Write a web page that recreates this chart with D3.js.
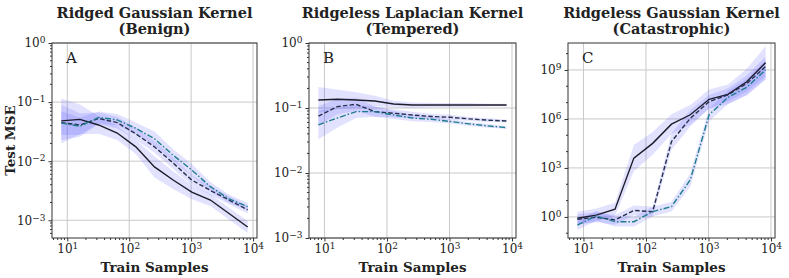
<!DOCTYPE html>
<html>
<head>
<meta charset="utf-8">
<script src="https://cdn.jsdelivr.net/npm/d3@7"></script>
<style>
  body { margin: 0; background: #fff; }
  svg text { font-family: "DejaVu Serif", serif; fill: #222; }
</style>
</head>
<body>
<svg id="chart" width="789" height="278"></svg>
<script>
// train sample sizes (x)
var samples = [8, 16, 32, 64, 128, 256, 512, 1024, 2048, 4096, 8192];

// panel A: ridged gaussian
var aSolid   = [0.048, 0.051, 0.041, 0.030, 0.0175, 0.008, 0.0048, 0.003, 0.0022, 0.0013, 0.00077];
var aDashed  = [0.045, 0.041, 0.053, 0.045, 0.029, 0.0175, 0.0093, 0.0048, 0.0032, 0.0022, 0.0015];
var aDashdot = [0.044, 0.039, 0.055, 0.050, 0.036, 0.024, 0.0126, 0.0071, 0.0037, 0.0023, 0.0017];
// half width of the shaded band, in decades
var aSolidSpread   = [0.38, 0.25, 0.15, 0.12, 0.12, 0.18, 0.15, 0.12, 0.1, 0.1, 0.1];
var aDashedSpread  = [0.3, 0.2, 0.1, 0.1, 0.1, 0.1, 0.1, 0.08, 0.08, 0.07, 0.06];
var aDashdotSpread = [0.2, 0.15, 0.1, 0.1, 0.1, 0.12, 0.1, 0.1, 0.08, 0.07, 0.06];

// panel B: ridgeless laplacian
var bSolid   = [0.133, 0.136, 0.133, 0.128, 0.115, 0.111, 0.111, 0.111, 0.111, 0.111, 0.111];
var bDashed  = [0.075, 0.105, 0.114, 0.088, 0.083, 0.078, 0.074, 0.072, 0.068, 0.065, 0.063];
var bDashdot = [0.055, 0.070, 0.088, 0.088, 0.078, 0.070, 0.067, 0.062, 0.057, 0.053, 0.050];
var bSolidSpread   = [0.2, 0.15, 0.12, 0.08, 0.05, 0.04, 0.03, 0.03, 0.03, 0.02, 0.02];
var bDashedSpread  = [0.15, 0.12, 0.1, 0.08, 0.06, 0.05, 0.04, 0.04, 0.03, 0.03, 0.02];
var bDashdotSpread = [0.22, 0.15, 0.1, 0.08, 0.06, 0.05, 0.04, 0.03, 0.03, 0.03, 0.02];

// panel C: ridgeless gaussian
var cSolid   = [0.83, 1.3, 2.95, 4000, 3.2e4, 4.8e5, 1.8e6, 1.6e7, 3.2e7, 1.9e8, 2.8e9];
var cDashed  = [0.72, 0.95, 0.66, 2.5, 2.1, 4.1e4, 1.1e6, 1.15e7, 3.0e7, 1.5e8, 1.6e9];
var cDashdot = [0.32, 1.15, 0.51, 0.51, 2.1, 4.3, 186, 1.8e6, 2.1e7, 8.7e7, 1.0e9];
var cSolidSpread   = [0.4, 0.4, 0.4, 0.8, 0.7, 0.6, 0.6, 0.6, 0.6, 0.8, 1.0];
var cDashedSpread  = [0.3, 0.3, 0.3, 0.3, 0.3, 0.5, 0.5, 0.4, 0.4, 0.5, 0.6];
var cDashdotSpread = [0.3, 0.3, 0.3, 0.3, 0.3, 0.3, 0.4, 0.4, 0.4, 0.5, 0.6];

var titles = [
    ["Ridged Gaussian Kernel", "(Benign)"],
    ["Ridgeless Laplacian Kernel", "(Tempered)"],
    ["Ridgeless Gaussian Kernel", "(Catastrophic)"]
];
var letters = ["A", "B", "C"];
var xTickVals = [1e1, 1e2, 1e3, 1e4];
var yTickExps = [[0, -1, -2, -3], [0, -1, -2, -3], [0, 3, 6, 9]];

var panels = [
    {left: 52, width: 205, ydom: [Math.pow(10, -3.3), 1],
     series: [[aSolid, aSolidSpread], [aDashed, aDashedSpread], [aDashdot, aDashdotSpread]]},
    {left: 309, width: 207, ydom: [1e-3, 1],
     series: [[bSolid, bSolidSpread], [bDashed, bDashedSpread], [bDashdot, bDashdotSpread]]},
    {left: 568, width: 207, ydom: [Math.pow(10, -1.29), Math.pow(10, 10.65)],
     series: [[cSolid, cSolidSpread], [cDashed, cDashedSpread], [cDashdot, cDashdotSpread]]}
];

var plotTop = 43, plotH = 195;
var styles = [
    {color: "#1c1c2a", dash: null},
    {color: "#26304c", dash: "4.5,2.2"},
    {color: "#1e7c8c", dash: "6,2,1.5,2"}
];

var svg = d3.select("#chart");

function supLabel(sel, exp) {
    sel.text("");
    sel.append("tspan").text("10");
    sel.append("tspan").attr("dy", "-0.45em").attr("font-size", "9px")
        .text(String(exp).replace("-", "\u2212"));
}

panels.forEach(function (p, pi) {
    var g = svg.append("g").attr("transform", "translate(" + p.left + "," + plotTop + ")");
    var x = d3.scaleLog().domain([Math.pow(10, 0.753), Math.pow(10, 4.064)]).range([0, p.width]);
    var y = d3.scaleLog().domain(p.ydom).range([plotH, 0]);

    // grid
    g.selectAll(".gx").data(xTickVals).enter().append("line")
        .attr("x1", function (d) { return x(d); }).attr("x2", function (d) { return x(d); })
        .attr("y1", 0).attr("y2", plotH)
        .attr("stroke", "#c8c8c8").attr("stroke-width", 1);
    var yt = yTickExps[pi].map(function (e) { return Math.pow(10, e); });
    g.selectAll(".gy").data(yt).enter().append("line")
        .attr("y1", function (d) { return y(d); }).attr("y2", function (d) { return y(d); })
        .attr("x1", 0).attr("x2", p.width)
        .attr("stroke", "#c8c8c8").attr("stroke-width", 1);

    // bands
    var area = d3.area()
        .x(function (d) { return x(d[0]); })
        .y0(function (d) { return y(d[1] / Math.pow(10, d[2])); })
        .y1(function (d) { return y(d[1] * Math.pow(10, d[2])); });
    p.series.forEach(function (s) {
        var pts = samples.map(function (n, i) { return [n, s[0][i], s[1][i]]; });
        g.append("path").datum(pts).attr("d", area)
            .attr("fill", "rgb(85,85,255)").attr("fill-opacity", 0.17);
    });

    // lines
    var line = d3.line().x(function (d) { return x(d[0]); }).y(function (d) { return y(d[1]); });
    p.series.forEach(function (s, si) {
        var pts = samples.map(function (n, i) { return [n, s[0][i]]; });
        g.append("path").datum(pts).attr("d", line)
            .attr("fill", "none")
            .attr("stroke", styles[si].color)
            .attr("stroke-width", 1.4)
            .attr("stroke-dasharray", styles[si].dash);
    });

    // frame
    g.append("rect").attr("width", p.width).attr("height", plotH)
        .attr("fill", "none").attr("stroke", "#333").attr("stroke-width", 1);

    // x axis
    var xMinor = [];
    [1, 10, 100, 1000].forEach(function (b) {
        for (var k = 2; k <= 9; k++) xMinor.push(b * k);
    });
    xMinor = xMinor.filter(function (v) { return x(v) >= 0 && x(v) <= p.width; });
    var xa = g.append("g").attr("transform", "translate(0," + plotH + ")")
        .call(d3.axisBottom(x).tickValues(xTickVals).tickSize(3.5).tickPadding(3));
    xa.select(".domain").remove();
    xa.selectAll("text").attr("font-size", "12px").attr("fill", "#333").each(function (d) {
        supLabel(d3.select(this), Math.round(Math.log10(d)));
    });
    xa.selectAll(".minor").data(xMinor).enter().append("line")
        .attr("x1", function (d) { return x(d); }).attr("x2", function (d) { return x(d); })
        .attr("y1", 0).attr("y2", 2).attr("stroke", "#333");

    // y axis
    var ya = g.append("g").call(d3.axisLeft(y).tickValues(yt).tickSize(3.5).tickPadding(3));
    ya.select(".domain").remove();
    ya.selectAll("text").attr("font-size", "12px").attr("fill", "#333").each(function (d) {
        supLabel(d3.select(this), Math.round(Math.log10(d)));
    });
    var yMinor = [];
    if (pi < 2) {
        [1e-4, 1e-3, 1e-2, 1e-1].forEach(function (b) {
            for (var k = 2; k <= 9; k++) yMinor.push(b * k);
        });
    } else {
        for (var e = -1; e <= 10; e++) if (e % 3 !== 0) yMinor.push(Math.pow(10, e));
    }
    yMinor = yMinor.filter(function (v) { return y(v) >= 0 && y(v) <= plotH; });
    ya.selectAll(".minor").data(yMinor).enter().append("line")
        .attr("y1", function (d) { return y(d); }).attr("y2", function (d) { return y(d); })
        .attr("x1", 0).attr("x2", -2).attr("stroke", "#333");
    ya.selectAll(".tick line").attr("stroke", "#333");
    xa.selectAll(".tick line").attr("stroke", "#333");

    // panel letter
    g.append("text").attr("x", 14).attr("y", 20)
        .attr("font-size", "15px").text(letters[pi]);

    // titles
    titles[pi].forEach(function (t, ti) {
        svg.append("text")
            .attr("x", p.left + p.width / 2).attr("y", 18 + ti * 16)
            .attr("text-anchor", "middle")
            .attr("font-size", "14.5px").attr("font-weight", "bold")
            .text(t);
    });

    // x label
    svg.append("text")
        .attr("x", p.left + p.width / 2).attr("y", 272)
        .attr("text-anchor", "middle")
        .attr("font-size", "13.5px").attr("font-weight", "bold")
        .text("Train Samples");
});

svg.append("text")
    .attr("transform", "translate(15," + (plotTop + plotH / 2) + ") rotate(-90)")
    .attr("text-anchor", "middle")
    .attr("font-size", "13.5px").attr("font-weight", "bold")
    .text("Test MSE");
</script>
</body>
</html>
